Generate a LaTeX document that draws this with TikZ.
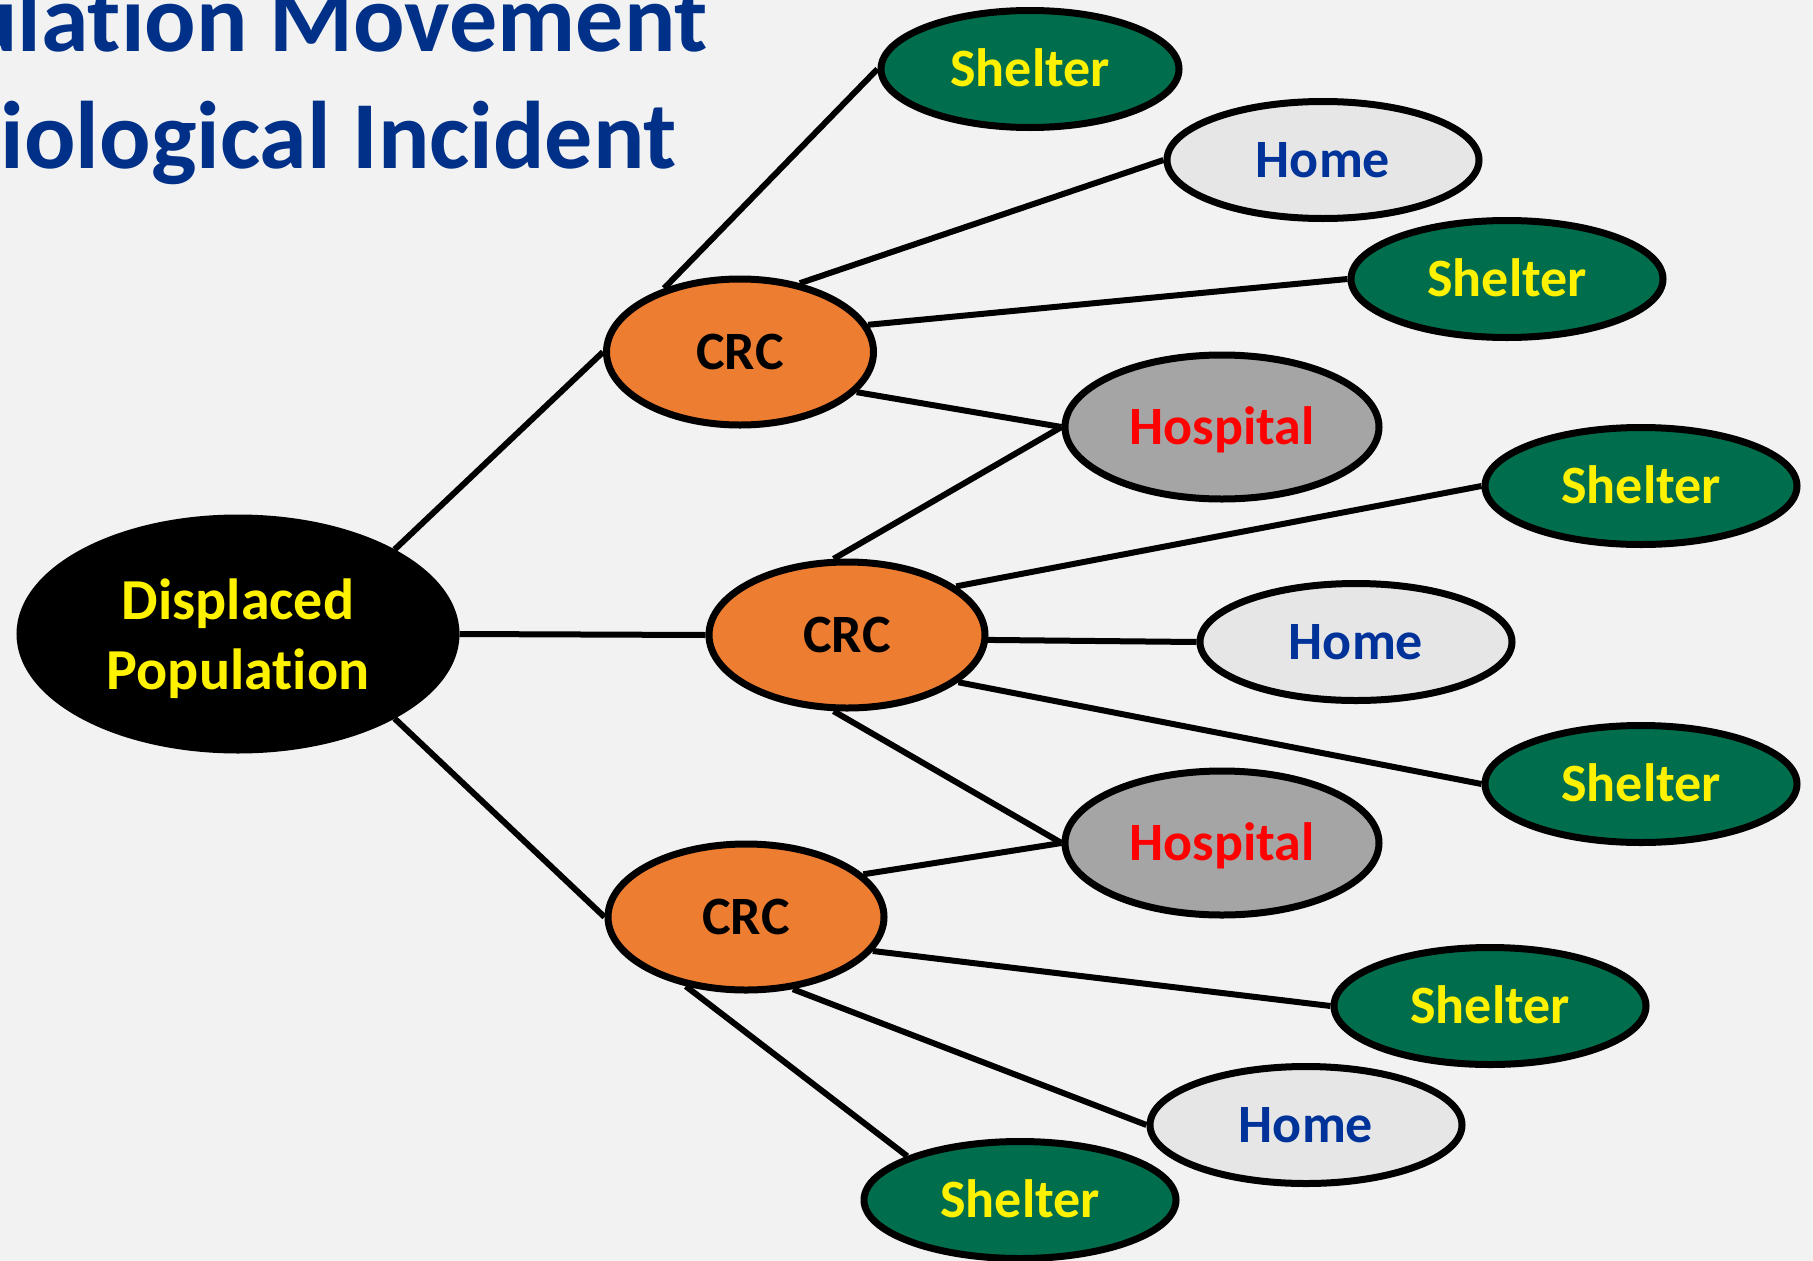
\documentclass[tikz,border=0pt]{standalone}
\usepackage{fontspec}
\setmainfont{Carlito}[Ligatures=NoCommon]
\usetikzlibrary{shapes.geometric}

\definecolor{pagegray}{HTML}{F2F2F2}
\definecolor{titleblue}{HTML}{003087}
\definecolor{crcorange}{HTML}{ED7D31}
\definecolor{sheltergreen}{HTML}{006E4D}
\definecolor{homegray}{HTML}{E7E6E6}
\definecolor{homeblue}{HTML}{003399}
\definecolor{hospgray}{HTML}{A5A5A5}

\begin{document}
\begin{tikzpicture}[x=1pt,y=-1pt,
  blob/.style={ellipse, draw=black, line width=7pt, inner sep=0pt,
    font=\bfseries\fontsize{54}{64}\selectfont, text height=34pt, text depth=0pt},
  crc/.style={blob, fill=crcorange, text=black, minimum width=276pt, minimum height=146pt},
  shelter/.style={blob, fill=sheltergreen, text=yellow, minimum width=312pt, minimum height=117pt},
  home/.style={blob, fill=homegray, text=homeblue, minimum width=312pt, minimum height=117pt},
  hospital/.style={blob, fill=hospgray, text=red, minimum width=314pt, minimum height=144pt},
  source/.style={ellipse, fill=black, draw=black, line width=7pt, inner sep=0pt,
    text=yellow, align=center, font=\bfseries\fontsize{58}{70}\selectfont,
    minimum width=436pt, minimum height=232pt, text depth=0pt},
  link/.style={draw=black, line width=6pt},
  headline/.style={text=titleblue, font=\bfseries\fontsize{96}{114}\selectfont,
    inner sep=0pt, anchor=base east}
]
\useasboundingbox (0,0) rectangle (1813,1261);
\fill[pagegray] (0,0) rectangle (1813,1261);
\clip (0,0) rectangle (1813,1261);

% heading, running off the left and top edges
\node[headline] (head1) at (708,51) {Population Movement};
\node[headline] (head2) at (677,168) {Radiological Incident};

% origin
\node[source] (dp) at (238,634) {Displaced\\Population};

% reception centres
\node[crc, minimum width=267pt] (crc1) at (740,352) {CRC};
\node[crc] (crc2) at (847,635) {CRC};
\node[crc] (crc3) at (746,917) {CRC};

% destinations
\node[shelter, minimum width=298pt] (sh1) at (1030,69) {Shelter};
\node[home] (ho1) at (1323,160) {Home};
\node[shelter] (sh2) at (1507,279) {Shelter};
\node[hospital] (hp1) at (1222,427) {Hospital};
\node[shelter] (sh3) at (1641,486) {Shelter};
\node[home] (ho2) at (1356,642) {Home};
\node[shelter] (sh4) at (1641,784) {Shelter};
\node[hospital] (hp2) at (1222,843) {Hospital};
\node[shelter] (sh5) at (1490,1006) {Shelter};
\node[home] (ho3) at (1306,1125) {Home};
\node[shelter] (sh6) at (1020,1200) {Shelter};

% connectors
\draw[link] (dp.north east) -- (crc1.west);
\draw[link] (dp.east) -- (crc2.west);
\draw[link] (dp.south east) -- (crc3.west);

\draw[link] (crc1.140) -- (sh1.west);
\draw[link] (crc1.49) -- (ho1.west);
\draw[link] (crc1.12.6) -- (sh2.west);
\draw[link] (crc1.-19.2) -- (hp1.west);

\draw[link] (crc2.100) -- (hp1.west);
\draw[link] (crc2.24.9) -- (sh3.west);
\draw[link] (crc2.-2) -- (ho2.west);
\draw[link] (crc2.-23.6) -- (sh4.west);
\draw[link] (crc2.-100) -- (hp2.west);

\draw[link] (crc3.20.3) -- (hp2.west);
\draw[link] (crc3.-15.2) -- (sh5.west);
\draw[link] (crc3.-57.8) -- (ho3.west);
\draw[link] (crc3.-131.4) -- (sh6.north west);
\end{tikzpicture}
\end{document}
